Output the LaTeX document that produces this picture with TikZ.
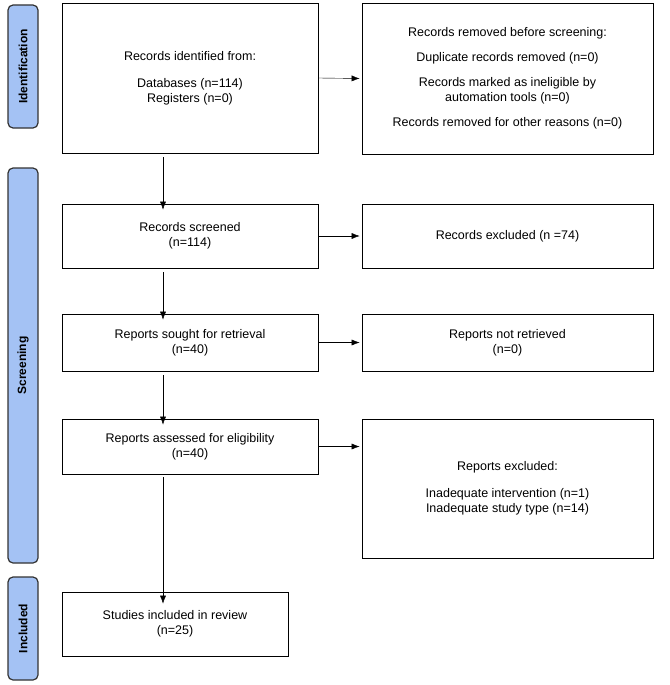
\documentclass[tikz,border=0pt]{standalone}
\usepackage{fontspec}
\setmainfont{Liberation Sans}
\usetikzlibrary{arrows.meta}
\definecolor{phaseblue}{HTML}{A4C2F4}
\begin{document}
\begin{tikzpicture}[x=1pt,y=-1pt,font=\fontsize{12.5}{15}\selectfont]

    \tikzset{box/.style={draw,thick,align=center,inner sep=0pt},
             phase/.style={draw=black!80,very thick,fill=phaseblue,rounded corners=5pt,
               minimum height=30pt,inner sep=0pt,font=\fontsize{12}{14}\selectfont\bfseries},
             arr/.style={-{Latex[length=8pt,width=6pt]}}}
    \useasboundingbox (0,0) rectangle (669,685);

    % phases
    \node[phase,minimum width=123pt,rotate=90] (ident) at (23,66.5) {Identification};
    \node[phase,minimum width=395pt,rotate=90] (screen) at (23,365.5) {Screening};
    \node[phase,minimum width=103pt,rotate=90] (incl) at (23,628.5) {Included};

    % left column
    \node[box,minimum width=256pt,minimum height=150pt] (id) at (190,78)
        {Records identified from:\\[12pt]Databases (n=114)\\Registers (n=0)};
    \node[box,minimum width=256pt,minimum height=64pt] (scr) at (190,236)
        {Records screened\\(n=114)};
    \node[box,minimum width=256pt,minimum height=57pt] (sought) at (190,342.5)
        {Reports sought for retrieval\\(n=40)};
    \node[box,minimum width=256pt,minimum height=55pt] (assess) at (190,446.5)
        {Reports assessed for eligibility\\(n=40)};
    \node[box,minimum width=226pt,minimum height=64pt] (inc) at (175,624)
        {Studies included in review\\(n=25)};

    % right column
    \node[box,minimum width=291pt,minimum height=151pt] (rem) at (507.5,78.5)
        {Records removed before screening:\\[10pt]Duplicate records removed (n=0)\\[10pt]Records marked as ineligible by\\automation tools (n=0)\\[10pt]Records removed for other reasons (n=0)};
    \node[box,minimum width=291pt,minimum height=64pt] (exc) at (507.5,236)
        {Records excluded (n =74)};
    \node[box,minimum width=291pt,minimum height=57pt] (notret) at (507.5,342.5)
        {Reports not retrieved\\(n=0)};
    \node[box,minimum width=291pt,minimum height=139pt] (repexc) at (507.5,488.5)
        {Reports excluded:\\[12pt]Inadequate intervention (n=1)\\Inadequate study type (n=14)};

    % arrows
    \draw[arr] (id.east) -- ([xshift=-2pt]rem.west);
    \draw[arr] (scr.east) -- ([xshift=-2pt]exc.west);
    \draw[arr] (sought.east) -- ([xshift=-2pt]notret.west);
    \draw[arr] (assess.east) -- ([xshift=-2pt]assess.east -| repexc.west);

    \coordinate (c1) at (163,157);
    \coordinate (c2) at (163,272);
    \coordinate (c3) at (163,375);
    \coordinate (c4) at (163,477);
    \draw[arr] (c1) -- ([yshift=-6pt]c1 |- scr.north);
    \draw[arr] (c2) -- ([yshift=-6pt]c2 |- sought.north);
    \draw[arr] (c3) -- ([yshift=-6pt]c3 |- assess.north);
    \draw[arr] (c4) -- ([yshift=-12pt]c4 |- inc.north);
\end{tikzpicture}
\end{document}
